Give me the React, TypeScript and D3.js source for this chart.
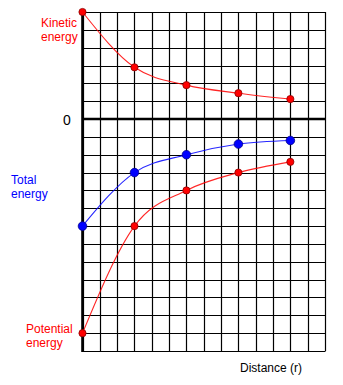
import React from "react";
import * as d3 from "d3";

const distance = [1, 2, 3, 4, 5];
const kinetic = [6, 2.9, 1.9, 1.45, 1.12];
const total = [-6, -3, -2, -1.4, -1.2];
const potential = [-12, -6, -4, -3, -2.4];

const W = 343;
const H = 385;
const left = 82.5;
const right = 325;
const top = 12;
const bottom = 351;
const xCols = 14;
const yMax = 6;
const yMin = -13;

const x = d3.scaleLinear().domain([1, 1 + xCols / 3]).range([left, right]);
const y = d3.scaleLinear().domain([yMin, yMax]).range([bottom, top]);

const line = d3
  .line<[number, number]>()
  .x((d) => x(d[0]))
  .y((d) => y(d[1]))
  .curve(d3.curveMonotoneX);

const series = [
  { name: "kinetic", values: kinetic, color: "#ff0000", stroke: "#8a0000", r: 3.6 },
  { name: "potential", values: potential, color: "#ff0000", stroke: "#8a0000", r: 3.6 },
  { name: "total", values: total, color: "#0000ff", stroke: "#00008a", r: 4.3 },
];

export default function App() {
  const xTicks = d3.range(0, xCols + 1).map((i) => 1 + i / 3);
  const yTicks = d3.range(yMin, yMax + 1);
  const font = "Liberation Sans, Arial, sans-serif";
  return (
    <svg
      width={W}
      height={H}
      style={{ position: "absolute", left: 0, top: 0, background: "#fff" }}
      fontFamily={font}
    >
      <rect width={W} height={H} fill="#fff" />
      {xTicks.map((t, i) => (
        <line
          key={"vx" + i}
          x1={Math.round(x(t)) + 0.5}
          x2={Math.round(x(t)) + 0.5}
          y1={top}
          y2={bottom}
          stroke="#000"
          strokeWidth={1.2}
        />
      ))}
      {yTicks.map((t, i) => (
        <line
          key={"hy" + i}
          x1={left}
          x2={right + 0.5}
          y1={Math.round(y(t)) + 0.5}
          y2={Math.round(y(t)) + 0.5}
          stroke="#000"
          strokeWidth={1.2}
        />
      ))}
      <line x1={left} x2={right + 1} y1={y(0)} y2={y(0)} stroke="#000" strokeWidth={2.6} />
      <line x1={left} x2={left} y1={top - 1} y2={bottom + 1} stroke="#000" strokeWidth={2.6} />

      {series.map((s) => (
        <path
          key={s.name + "l"}
          d={line(distance.map((d, i) => [d, s.values[i]] as [number, number])) || ""}
          fill="none"
          stroke={s.color}
          strokeWidth={1.1}
          opacity={0.85}
        />
      ))}
      {series.map((s) =>
        distance.map((d, i) => (
          <circle
            key={s.name + i}
            cx={x(d)}
            cy={y(s.values[i])}
            r={s.r}
            fill={s.color}
            stroke={s.stroke}
            strokeWidth={0.8}
          />
        ))
      )}

      <text x={67} y={125} fontSize={14} textAnchor="middle" fill="#000">0</text>
      <text fontSize={12} fill="#ff0000">
        <tspan x={41} y={27}>Kinetic</tspan>
        <tspan x={41} y={41}>energy</tspan>
      </text>
      <text fontSize={12} fill="#0000ff">
        <tspan x={11} y={184}>Total</tspan>
        <tspan x={11} y={198}>energy</tspan>
      </text>
      <text fontSize={12} fill="#ff0000">
        <tspan x={26} y={333}>Potential</tspan>
        <tspan x={26} y={347}>energy</tspan>
      </text>
      <text x={240} y={372} fontSize={12} fill="#000">Distance (r)</text>
    </svg>
  );
}
